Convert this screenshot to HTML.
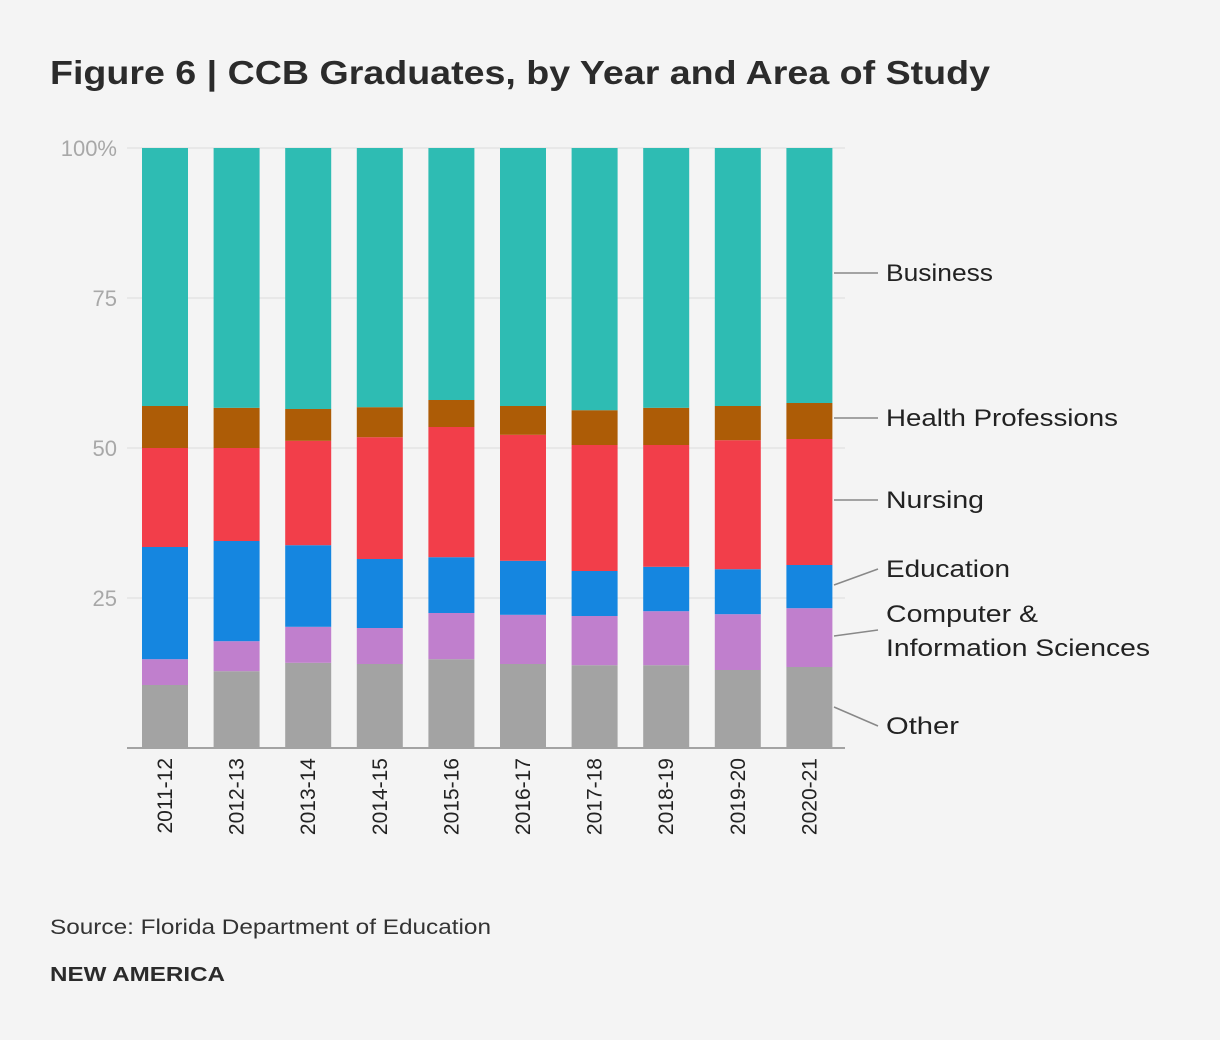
<!DOCTYPE html>
<html><head><meta charset="utf-8"><style>
body{margin:0;background:#f4f4f4;font-family:"Liberation Sans",sans-serif;}
svg{display:block}
</style></head><body>
<svg id="c" width="1220" height="1040">
<rect width="1220" height="1040" fill="#f4f4f4"/>
<text x="50" y="84" font-size="33" font-weight="bold" fill="#2b2b2b" textLength="940" lengthAdjust="spacingAndGlyphs">Figure 6 | CCB Graduates, by Year and Area of Study</text>
<text x="50" y="934" font-size="21" fill="#333" textLength="441" lengthAdjust="spacingAndGlyphs">Source: Florida Department of Education</text>
<text x="50" y="981" font-size="20" font-weight="bold" fill="#2b2b2b" textLength="175" lengthAdjust="spacingAndGlyphs">NEW AMERICA</text>
<g id="grid"></g><g id="bars"></g><g id="lab"></g>
</svg>
<script>
const years=["2011-12","2012-13","2013-14","2014-15","2015-16","2016-17","2017-18","2018-19","2019-20","2020-21"];
const other=[10.5,12.8,14.2,14,14.8,14,13.8,13.8,13,13.5];
const cis=[4.3,5,6,6,7.7,8.2,8.2,9,9.3,9.8];
const education=[18.7,16.7,13.6,11.5,9.3,9,7.5,7.4,7.5,7.2];
const nursing=[16.5,15.5,17.4,20.3,21.7,21,21,20.3,21.5,21];
const health=[7,6.7,5.3,5,4.5,4.8,5.8,6.2,5.7,6];
const business=[43,43.3,43.5,43.2,42,43,43.7,43.3,43,42.5];
const yTicks=[0,25,50,75,100];
const yTickLabels=["","25","50","75","100%"];
const series=[
 {name:"other",vals:other,color:"#a3a3a3"},
 {name:"cis",vals:cis,color:"#c07fcd"},
 {name:"education",vals:education,color:"#1586e0"},
 {name:"nursing",vals:nursing,color:"#f23e4a"},
 {name:"health",vals:health,color:"#ad5c06"},
 {name:"business",vals:business,color:"#2ebcb3"}];
const NS="http://www.w3.org/2000/svg";
const y0=748,y1=148,x0=127,x1=845;
const y=v=>y0-(v/100)*(y0-y1);
const xc=i=>165+i*71.6;
const bw=46;
function mk(t,a,p){const e=document.createElementNS(NS,t);for(const k in a)e.setAttribute(k,a[k]);p.appendChild(e);return e;}
const grid=document.getElementById('grid');
yTicks.forEach((t,i)=>{
 const l=mk('line',{x1:x0,x2:x1,y1:y(t),y2:y(t),stroke:t===0?'#888':'#dcdcdc','stroke-width':t===0?1.5:1},grid);
 
 
 if(yTickLabels[i]){const tx=mk('text',{x:117,y:y(t)+8,'text-anchor':'end','font-size':22,fill:'#a8a8a8'},grid);tx.textContent=yTickLabels[i];
 
 }
});
const bars=document.getElementById('bars');
years.forEach((yr,i)=>{
 let tot=0;series.forEach(s=>tot+=s.vals[i]);
 let cum=0;
 series.forEach(s=>{
  const v=s.vals[i]/tot*100;
  const r=mk('rect',{x:xc(i)-bw/2,y:y(cum+v),width:bw,height:y(cum)-y(cum+v),fill:s.color},bars);
  
  
  cum+=v;
 });
 const t=mk('text',{x:0,y:0,'text-anchor':'end','font-size':21,fill:'#222',transform:`translate(${xc(i)+7},758) rotate(-90)`},bars);
 t.textContent=yr;
 
 
});
const lab=document.getElementById('lab');
const legend=[["Business",273,273,107,[]],["Health Professions",418,418,232,[]],["Nursing",500,500,98,[]],["Education",585,569,124,[]],["Computer &",636,630,152,[["Information Sciences",264]]],["Other",707,726,73,[]]];
legend.forEach(L=>{
 const ln=mk('line',{x1:834,y1:L[1],x2:878,y2:L[2],stroke:'#888','stroke-width':1.5},lab);
 
 
 const ty=L[4].length?L[2]-8:L[2]+8;
 const t=mk('text',{x:886,y:ty,'font-size':24,fill:'#222',textLength:L[3],lengthAdjust:'spacingAndGlyphs'},lab);
 t.textContent=L[0];
 
 
 L[4].forEach((s,j)=>{const t2=mk('text',{x:886,y:ty+34*(j+1),'font-size':24,fill:'#222',textLength:s[1],lengthAdjust:'spacingAndGlyphs'},lab);t2.textContent=s[0];
 
 });
});
</script>
</body></html>
